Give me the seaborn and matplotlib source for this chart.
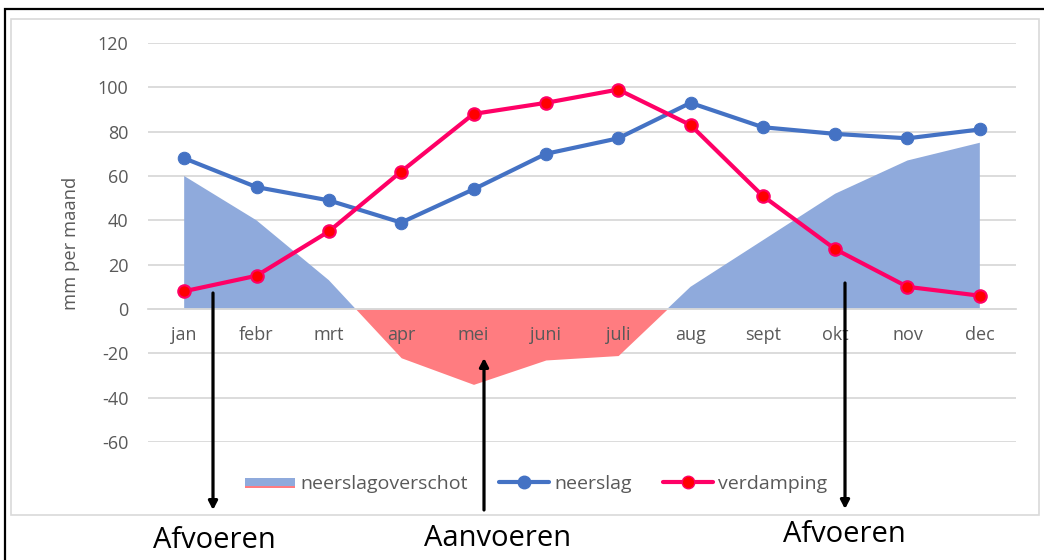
import numpy as np
import matplotlib
matplotlib.use("Agg")
import matplotlib.pyplot as plt
import seaborn as sns
from matplotlib.patches import Rectangle, FancyArrowPatch
from matplotlib.lines import Line2D
from matplotlib.legend_handler import HandlerBase

# ---- data ----
months = ['jan', 'febr', 'mrt', 'apr', 'mei', 'juni', 'juli', 'aug', 'sept', 'okt', 'nov', 'dec']
neerslag = [68, 55, 49, 39, 54, 70, 77, 93, 82, 79, 77, 81]
verdamping = [8, 15, 35, 62, 88, 93, 99, 83, 51, 27, 10, 6]
overschot = [60, 40, 13, -22, -34, -23, -21, 10, 31, 52, 67, 75]
yticks = [-60, -40, -20, 0, 20, 40, 60, 80, 100, 120]
annotations = ['Afvoeren', 'Aanvoeren', 'Afvoeren']

sns.set_theme(style="white")
plt.rcParams['font.family'] = ['Open Sans', 'DejaVu Sans']
plt.rcParams['axes.unicode_minus'] = False

W, H = 1044, 560
fig = plt.figure(figsize=(W / 100, H / 100), dpi=100)
fig.patch.set_facecolor('white')

def fx(px):
    return px / W

def fy(py):
    return 1 - py / H

# frames
fig.patches.append(Rectangle((fx(5), fy(600)), 1.2, fy(9) - fy(600), transform=fig.transFigure,
                             fill=False, edgecolor='black', lw=1.6, zorder=0))
fig.patches.append(Rectangle((fx(11), fy(515)), fx(1039) - fx(11), fy(19) - fy(515),
                             transform=fig.transFigure, fill=False, edgecolor='#D9D9D9', lw=1.2, zorder=0))

ax = fig.add_axes([fx(148), fy(442), fx(1016) - fx(148), fy(43) - fy(442)])
ax.set_facecolor('none')

x = np.arange(len(months))
ov = np.array(overschot, dtype=float)

blue_area = '#8FAADC'
red_area = '#FF7C80'
ax.fill_between(x, ov, 0, where=ov >= 0, interpolate=True, color=blue_area, lw=0, zorder=1)
ax.fill_between(x, ov, 0, where=ov <= 0, interpolate=True, color=red_area, lw=0, zorder=1)

sns.lineplot(x=x, y=neerslag, ax=ax, color='#4472C4', lw=3, marker='o', markersize=9,
             markeredgecolor='#4472C4', markerfacecolor='#4472C4', zorder=4)
sns.lineplot(x=x, y=verdamping, ax=ax, color='#FF0066', lw=3, marker='o', markersize=9,
             markeredgecolor='#FF0066', markerfacecolor='#FF0000', markeredgewidth=1.5, zorder=5)

ax.set_xlim(-0.5, len(months) - 0.5)
ax.set_ylim(-60, 120)
ax.set_yticks(yticks)
ax.yaxis.grid(True, color='#D9D9D9', lw=1.3)
ax.set_axisbelow(True)
ax.tick_params(axis='y', length=0, pad=14, labelcolor='#595959', labelsize=13)

for s in ['top', 'right', 'left']:
    ax.spines[s].set_visible(False)
ax.spines['bottom'].set_position(('data', 0))
ax.spines['bottom'].set_color('#D9D9D9')
ax.spines['bottom'].set_linewidth(1.3)
ax.spines['bottom'].set_zorder(2)

ax.set_xticks(np.arange(-0.5, len(months), 1.0))
ax.set_xticklabels([])
ax.set_xticks(x, minor=True)
ax.set_xticklabels(months, minor=True)
ax.tick_params(axis='x', which='major', direction='out', length=6, width=1.3, color='#D9D9D9')
ax.tick_params(axis='x', which='minor', length=0, pad=12, labelcolor='#595959', labelsize=13)
ax.set_xlabel('')
ax.set_ylabel('')
ax.grid(False, axis='x')
ax.xaxis.set_zorder(3)

fig.text(fx(71), fy(243), 'mm per maand', rotation=90, ha='center', va='center',
         fontsize=13.2, color='#595959')

# legend
class AreaHandler(HandlerBase):
    def create_artists(self, legend, orig_handle, xdescent, ydescent, width, height, fontsize, trans):
        r1 = Rectangle((-xdescent, -ydescent + height * 0.22), width, height * 0.6,
                       facecolor=blue_area, lw=0, transform=trans)
        r2 = Rectangle((-xdescent, -ydescent + height * 0.05), width, height * 0.17,
                       facecolor=red_area, lw=0, transform=trans)
        return [r1, r2]

area_handle = Rectangle((0, 0), 1, 1)
h_n = Line2D([], [], color='#4472C4', lw=3, marker='o', markersize=9, markeredgecolor='#4472C4')
h_v = Line2D([], [], color='#FF0066', lw=3, marker='o', markersize=9, markeredgecolor='#FF0066',
             markerfacecolor='#FF0000')
leg = fig.legend([area_handle, h_n, h_v], ['neerslagoverschot', 'neerslag', 'verdamping'],
                 handler_map={Rectangle: AreaHandler()}, loc='center',
                 bbox_to_anchor=(fx(536), fy(484)), ncol=3, frameon=False, fontsize=14,
                 handlelength=2.6, handletextpad=0.25, columnspacing=1.6, labelcolor='#595959')

# arrows
arrows = [(213, 293, 510), (484, 510, 358), (845, 283, 509)]
for ax_x, y_tail, y_head in arrows:
    fig.add_artist(FancyArrowPatch(
        (fx(ax_x), fy(y_tail)), (fx(ax_x), fy(y_head)), transform=fig.transFigure,
        arrowstyle='-|>,head_length=5,head_width=2.6', color='black', lw=2.3,
        shrinkA=0, shrinkB=0, zorder=10))

text_pos = [(214, 540), (498, 538), (844, 535)]
for (tx, ty), t in zip(text_pos, annotations):
    fig.text(fx(tx), fy(ty), t, ha='center', va='center', fontsize=21, color='black')

fig.savefig('out.png', dpi=100)
